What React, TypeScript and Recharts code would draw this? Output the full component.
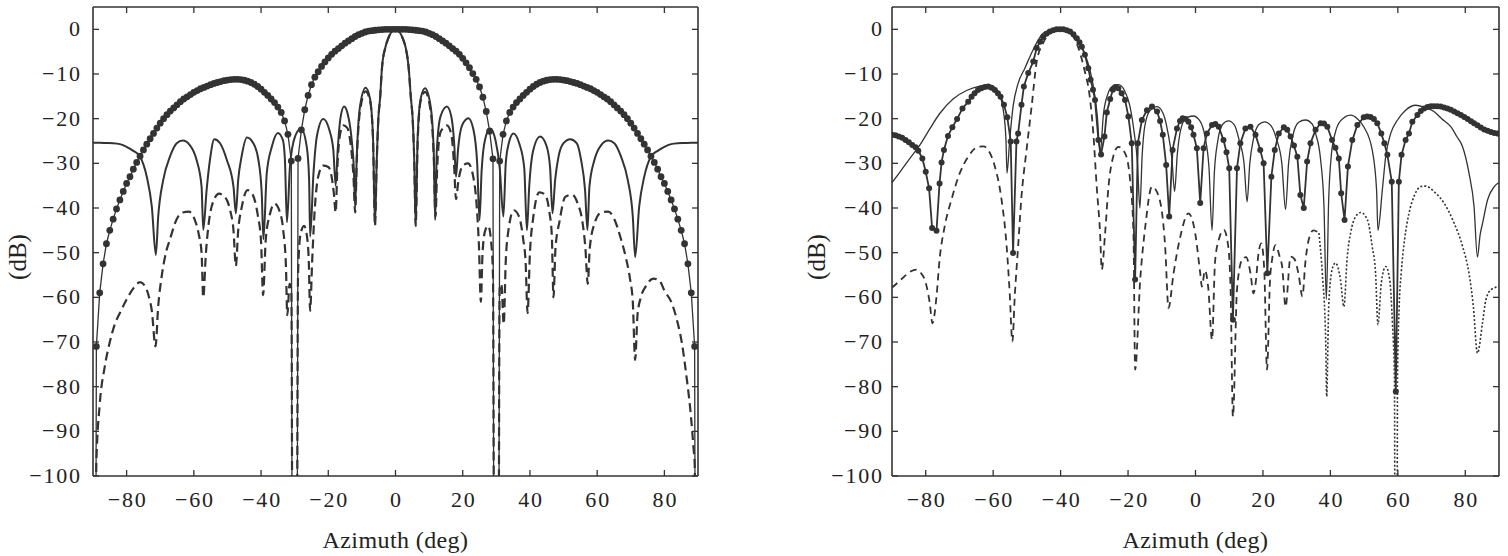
import { Line, LineChart, XAxis, YAxis } from "recharts";

type Pt = [number, number];

const azimuthTicks = [-80, -60, -40, -20, 0, 20, 40, 60, 80];
const dbTicks = [-100, -90, -80, -70, -60, -50, -40, -30, -20, -10, 0];

// left panel: subarray pattern (dotted markers), array factor (solid), total (dashed)
const leftMarker: Pt[] = [
  [-90, -400], [-89, -71], [-88, -59], [-87, -52.5], [-86, -48], [-85, -45], [-84, -42.5], [-83, -40.2], [-82, -38.2],
  [-81, -36.3], [-80, -34.5], [-79, -33], [-78, -31.3], [-77, -29.8], [-76, -28.4], [-75, -27], [-74, -25.7], [-73, -24.5],
  [-72, -23.3], [-71, -22.1], [-70, -21], [-69, -20], [-68, -19.1], [-67, -18.3], [-66, -17.6], [-65, -16.9], [-64, -16.2],
  [-63, -15.6], [-62, -15.1], [-61, -14.6], [-60, -14.1], [-59, -13.7], [-58, -13.3], [-57, -13], [-56, -12.7], [-55, -12.4],
  [-54, -12.1], [-53, -11.9], [-52, -11.7], [-51, -11.5], [-50, -11.35], [-49, -11.25], [-48, -11.2], [-47, -11.2],
  [-46, -11.25], [-45, -11.4], [-44, -11.6], [-43, -11.9], [-42, -12.3], [-41, -12.8], [-40, -13.4], [-39, -14.1],
  [-38, -14.8], [-37, -15.6], [-36, -16.4], [-35, -17.4], [-34, -18.6], [-33, -20.5], [-32, -23.5], [-31, -29.5],
  [-30, -400], [-29, -28.9], [-28, -22.5], [-27, -18], [-26, -14.8], [-25, -12.4], [-24, -10.7], [-23, -9.5], [-22, -8.3],
  [-21, -7.3], [-20, -6.4], [-19, -5.6], [-18, -4.9], [-17, -4.3], [-16, -3.7], [-15, -3.1], [-14, -2.6], [-13, -2.1],
  [-12, -1.6], [-11, -1.2], [-10, -0.9], [-9, -0.6], [-8, -0.4], [-7, -0.3], [-6, -0.2], [-5, -0.1], [-4, -0.05], [-3, 0],
  [-2, 0], [-1, 0], [0, 0], [1, 0], [2, 0], [3, 0], [4, -0.05], [5, -0.1], [6, -0.2], [7, -0.3], [8, -0.4], [9, -0.6],
  [10, -0.9], [11, -1.2], [12, -1.6], [13, -2.1], [14, -2.6], [15, -3.1], [16, -3.7], [17, -4.3], [18, -4.9], [19, -5.6],
  [20, -6.5], [21, -7.5], [22, -8.6], [23, -9.9], [24, -11.2], [25, -12.9], [26, -15.2], [27, -18.4], [28, -22.8],
  [29, -29], [30, -400], [31, -29.5], [32, -23.5], [33, -20.5], [34, -18.6], [35, -17.4], [36, -16.4], [37, -15.6],
  [38, -14.8], [39, -14.1], [40, -13.4], [41, -12.8], [42, -12.3], [43, -11.9], [44, -11.6], [45, -11.4], [46, -11.25],
  [47, -11.2], [48, -11.2], [49, -11.25], [50, -11.35], [51, -11.5], [52, -11.7], [53, -11.9], [54, -12.1], [55, -12.4],
  [56, -12.7], [57, -13], [58, -13.3], [59, -13.7], [60, -14.1], [61, -14.6], [62, -15.1], [63, -15.6], [64, -16.2],
  [65, -16.9], [66, -17.6], [67, -18.3], [68, -19.1], [69, -20], [70, -21], [71, -22.1], [72, -23.3], [73, -24.5],
  [74, -25.7], [75, -27], [76, -28.4], [77, -29.8], [78, -31.3], [79, -33], [80, -34.5], [81, -36.3], [82, -38.2],
  [83, -40.2], [84, -42.5], [85, -45], [86, -48], [87, -52.5], [88, -59], [89, -71], [90, -400],
];

const leftSolid: Pt[] = [
  [-90, -25.4], [-88, -25.4], [-86, -25.45], [-84, -25.5], [-82, -25.7], [-80, -26.3], [-78, -27.2], [-76, -28.5],
  [-74, -33], [-72.5, -39.7], [-71.3, -50.5],
  [-70.6, -41.9], [-69.1, -33.7], [-67.1, -28.5], [-65.1, -25.5], [-63.3, -24.9], [-61.2, -25.9], [-59.2, -29.2], [-57.7, -35.2], [-57.2, -44.9],
  [-56.2, -36], [-55.2, -29.2], [-53.9, -24.6], [-52.2, -25.5], [-50.2, -29.2], [-48.2, -35.2], [-47.5, -41.2],
  [-46.8, -33.7], [-45.8, -28.5], [-44.2, -24.2], [-42.3, -25.5], [-40.8, -29.2], [-39.8, -36.7], [-39.3, -47],
  [-38.3, -32.2], [-36.8, -26.3], [-35, -23.2], [-33.5, -24.8], [-32.9, -29.2], [-32.3, -43.2],
  [-31.4, -30.7], [-29.9, -24], [-28.1, -22.2], [-26.4, -26.3], [-25.7, -33.7], [-25.4, -46.4],
  [-24.4, -32.2], [-23.4, -24], [-21.5, -20.1], [-19.7, -22.5], [-18.5, -27], [-17.8, -35],
  [-17.2, -27], [-16.3, -19.5], [-15.3, -17.3], [-14.2, -19], [-13, -25], [-12.4, -31], [-12, -39.7],
  [-11.5, -28], [-10.6, -17.5], [-8.9, -13.1], [-7.6, -15.5], [-6.7, -24], [-6.1, -43.8],
  [-5.6, -30], [-5.1, -20], [-4.6, -15.5], [-4, -8.4], [-3, -4], [-2.3, -2.3], [-1.2, -0.6], [0, 0],
  [1.2, -0.6], [2.3, -2.3], [3, -4], [3.9, -8.4], [4.6, -15.5], [5.1, -20], [5.6, -30], [6, -43.8],
  [6.6, -24], [7.5, -15.5], [8.8, -13.2], [10.5, -17.5], [11.4, -28], [11.8, -42.7],
  [12.3, -27], [13.4, -19.5], [15.3, -17.3], [16.6, -19.5], [17.5, -26], [18, -33],
  [18.6, -27], [19.8, -21.5], [21.7, -19.9], [23.2, -22.5], [24.3, -30], [25, -42.7],
  [25.6, -32], [26.7, -24.5], [28.2, -22.2], [29.8, -25], [31, -31], [32.1, -41.9],
  [32.8, -30], [33.7, -25.5], [35.1, -23.3], [36.8, -25.5], [38.3, -31], [39.1, -45],
  [39.8, -35], [41, -27], [43, -24], [44.9, -26], [46, -31], [46.7, -41.2],
  [47.5, -33.7], [48.5, -28.5], [50, -25.5], [52, -24.6], [53.9, -25.5], [55.2, -29.2], [56.4, -36], [57.1, -44.9],
  [57.7, -35.2], [59.2, -29.2], [61.2, -25.9], [63.3, -24.9], [65.1, -25.5], [67.1, -28.5], [69.1, -33.7], [70.6, -41.9], [71.3, -51],
  [72.5, -39.7], [74, -33], [76, -28.5], [78, -27.2], [80, -26.3], [82, -25.7], [84, -25.5], [86, -25.45], [88, -25.4], [90, -25.4],
];

const leftDashed: Pt[] = [
  [-90, -400], [-89, -97], [-88, -84], [-86.5, -75.5], [-85, -70], [-83.5, -66], [-82, -63.5], [-80, -60.5], [-78, -58],
  [-76, -56.6], [-74.5, -57.5], [-73.5, -59.5], [-72.5, -63], [-71.4, -71], [-70.6, -62], [-69.6, -55.5], [-68.3, -50],
  [-67.1, -47], [-65.1, -42.5], [-63.3, -41], [-61.5, -40.8], [-59.8, -42.5], [-58.5, -46], [-57.7, -50], [-57.2, -60],
  [-56.4, -50], [-55.5, -43], [-54.2, -38.5], [-52.5, -36.8], [-50.8, -37.5], [-49.2, -40.5], [-48.2, -45], [-47.5, -53],
  [-46.8, -45], [-45.8, -40], [-44, -36], [-42.5, -37], [-41, -41.5], [-40, -47.5], [-39.4, -59.5], [-38.6, -47],
  [-37.4, -41.5], [-36, -39], [-34.6, -40.5], [-33.4, -45], [-32.6, -53], [-32.2, -64], [-31.5, -57], [-31, -58],
  [-30, -400], [-29, -55], [-28.3, -46], [-27.2, -44], [-26.4, -46], [-25.8, -52], [-25.4, -63], [-24.8, -52], [-24, -40],
  [-23, -33], [-21.5, -30.5], [-20, -30.8], [-19, -33], [-18.3, -37], [-17.8, -41], [-17.3, -31], [-16.6, -24],
  [-15.5, -21.5], [-14.4, -22], [-13.3, -26], [-12.5, -33], [-12, -41], [-11.5, -29], [-10.6, -18.5], [-8.9, -13.9],
  [-7.6, -15.9], [-6.7, -24.3], [-6.1, -44], [-5.6, -30], [-5.1, -20], [-4.6, -15.6], [-4, -8.5], [-3, -4], [-2.3, -2.3],
  [-1.2, -0.6], [0, 0], [1.2, -0.6], [2.3, -2.3], [3, -4], [3.9, -8.5], [4.6, -15.6], [5.1, -20], [5.6, -30], [6, -44],
  [6.6, -25], [7.5, -16], [8.8, -14], [10.5, -18.5], [11.4, -29], [11.9, -42], [12.4, -31], [13.4, -23], [15.3, -21.5],
  [16.6, -23.5], [17.4, -30], [18, -38], [18.7, -34], [20, -30.5], [21.6, -30], [23, -32.5], [24.2, -40], [24.8, -48],
  [25.4, -61], [25.9, -50], [26.7, -45], [27.6, -44], [28.5, -48], [29, -55], [30, -400], [31, -58], [31.5, -57],
  [32.2, -66], [32.8, -52], [33.6, -45], [35.2, -40.5], [36.8, -42], [38, -47], [38.7, -52], [39.3, -63.5], [40, -50],
  [41, -42], [42.8, -36.5], [44.5, -37], [45.8, -41], [46.5, -46], [47, -60], [47.6, -49], [48.8, -43], [50.5, -37.5],
  [52.5, -37], [54.2, -39], [55.6, -43], [56.5, -49], [57.2, -57], [57.8, -49], [59.2, -43.5], [61.2, -41], [63.3, -40.8],
  [65.1, -42.5], [67.1, -47], [68.5, -51], [69.8, -56], [70.6, -61], [71.3, -74], [72, -64], [73, -60], [74.5, -57.5],
  [76.7, -55.8], [78.5, -56.2], [80, -58.5], [82.2, -61.3], [83.7, -65], [85.2, -70.2], [86.7, -78.5], [87.7, -85],
  [88.7, -94], [89, -97], [90, -400],
];

// right panel: steered pattern (markers), thin solid, dashed and dotted lower traces
const rightMarker: Pt[] = [
  [-90, -23.6], [-89, -23.7], [-88, -24], [-87, -24.3], [-86, -24.8], [-85, -25.3], [-84, -25.9], [-83, -26.4],
  [-82.2, -27.2], [-81, -28.9], [-80, -31.9], [-79, -35.6], [-78.1, -44.5], [-76.8, -45.1], [-75.9, -34.5], [-75.3, -29.8],
  [-74.6, -27], [-73.4, -23.9], [-72.1, -21.9], [-70.7, -20.1], [-69.1, -17.7], [-67.4, -16.2], [-66.4, -15.1],
  [-65.5, -14.3], [-64.5, -13.6], [-63.5, -13.2], [-62.5, -12.9], [-61.5, -12.8], [-60.5, -13.1], [-59.5, -13.6],
  [-58.6, -14.3], [-57.8, -15.1], [-56.8, -16.9], [-55.8, -19.7], [-54.8, -25.1], [-54.1, -50.1], [-53.1, -25.1],
  [-52.6, -23.3], [-51.6, -16.9], [-50.9, -12.8], [-49.6, -9.8], [-48.1, -7.2], [-47.1, -4.2], [-46.1, -2.8],
  [-45.2, -1.7], [-44.2, -1], [-43.2, -0.5], [-42.2, -0.2], [-41.2, 0], [-40.2, 0], [-39.2, 0], [-38.2, -0.2],
  [-37.2, -0.5], [-36.2, -1.1], [-35.2, -2], [-34.4, -2.9], [-33.7, -3.9], [-32.8, -5.7], [-31.8, -8.7], [-31.1, -11.3],
  [-30.4, -13.5], [-29.8, -15.8], [-28.8, -24.8], [-28, -28], [-27, -24], [-26.3, -18.6], [-25.3, -15.6], [-24.5, -13.5],
  [-23.8, -12.9], [-22.9, -13.2], [-21.9, -14.3], [-20.9, -15.8], [-19.9, -19.5], [-18.9, -25.5], [-17.9, -56],
  [-17.1, -25.5], [-15.9, -20.3], [-14.4, -18.1], [-12.9, -17.3], [-11.4, -18.4], [-10.5, -20.5], [-9.7, -23.6],
  [-8.7, -30.4], [-7.8, -41.9], [-6.8, -27], [-5.5, -22.2], [-4.6, -20.5], [-3.8, -19.9], [-2.9, -20.1], [-2.1, -20.7],
  [-1.3, -21.9], [-0.6, -23.6], [0.4, -26.6], [1.4, -38.9], [2.4, -26.6], [3.4, -23.3], [4.9, -21.4], [5.9, -21.2],
  [6.9, -21.8], [8.3, -24.8], [9.2, -27.5], [10, -31.1], [11.1, -65], [12.3, -31.1], [13.3, -25.5], [14.8, -22.2],
  [16.3, -21.8], [17.8, -23.6], [19.2, -27], [20.2, -30], [21.3, -54.6], [22.5, -33], [23.5, -27], [24.7, -23.3],
  [26.2, -21.9], [27.2, -22.5], [28.2, -24], [29.2, -26], [30.2, -28.5], [31.1, -37.1], [32.1, -40], [33.1, -29.6],
  [34.1, -25.5], [35.6, -22.5], [37.1, -21], [38.1, -21.1], [39.1, -21.8], [40.5, -24.8], [41.5, -26.5], [42.5, -28.9],
  [43.2, -36.7], [44.2, -42.7], [45.2, -30.7], [46.5, -24.8], [48, -21.4], [49.9, -19.7], [50.9, -19.5], [51.9, -19.6],
  [52.9, -20.1], [53.9, -21], [55.1, -23.3], [56, -25.5], [56.9, -28.1], [58.2, -34.1], [59.4, -81.1], [60.3, -34.1],
  [61.1, -28.1], [62.3, -24.8], [63.3, -23.3], [64.3, -20.7], [65.8, -19.2], [66.8, -18.3], [67.8, -17.7], [68.8, -17.4],
  [69.8, -17.2], [70.7, -17.2], [71.7, -17.2], [72.7, -17.3], [73.7, -17.5], [74.7, -17.7], [75.7, -18], [76.7, -18.4],
  [77.7, -18.8], [78.7, -19.2], [79.7, -19.6], [80.7, -20.1], [81.7, -20.6], [82.6, -21], [83.6, -21.5], [84.6, -22],
  [85.6, -22.4], [86.6, -22.7], [87.6, -23], [88.6, -23.2], [89.6, -23.3], [90, -23.3],
];

const rightSolid: Pt[] = [
  [-90, -34.3], [-87.7, -32], [-84.8, -29], [-81.8, -26], [-78.8, -22.3], [-75.9, -18.9], [-71.9, -15.6],
  [-67.9, -13.7], [-64, -12.7], [-61, -12.5], [-58.5, -14], [-57, -18.1], [-56.2, -24.8], [-55.9, -32.2], [-55.1, -24.8],
  [-54.1, -17.3], [-52.6, -12.1], [-50.6, -8.7], [-48.1, -4.5], [-45.2, -0.9], [-42.5, -0.1], [-40.5, 0], [-38.5, -0.2],
  [-36.2, -0.9], [-33.3, -4.6], [-31.3, -9.1], [-29.8, -15.1], [-29.1, -19.6], [-28.3, -28], [-27.3, -19], [-26, -14.5],
  [-24.5, -12.7], [-22.8, -12.4], [-21, -13.8], [-19.5, -17], [-18.2, -23], [-17.2, -30], [-16.5, -40], [-15.8, -28],
  [-15, -21.5], [-13.5, -18.2], [-11.4, -17.3], [-9.5, -19], [-8.2, -23], [-7, -29], [-6.2, -36.3], [-5.4, -28],
  [-4.4, -22.5], [-2.7, -19.8], [-0.7, -19.4], [1.3, -20.5], [2.8, -24], [4, -31], [4.9, -45], [5.6, -32], [6.6, -25],
  [8, -21.3], [9.8, -20.5], [11.6, -21.5], [13, -25], [14.4, -30], [15.3, -38.6], [16.1, -30], [17.2, -24.5],
  [18.8, -21.3], [20.5, -20.7], [22.3, -21.5], [24, -24.5], [25.6, -30], [26.7, -40.3], [27.6, -30], [28.8, -24],
  [30.6, -20.8], [32.6, -20.3], [34.6, -21.2], [35.6, -23.3], [37.1, -29.2], [38.1, -39.7], [38.8, -60.5], [39.5, -38],
  [40.3, -28], [41.5, -23], [43, -20.5], [46, -19.2], [48, -20], [49.9, -21.8], [52.4, -27], [53.7, -36], [54.1, -45],
  [55.4, -36], [56.4, -28.5], [57.9, -23.3], [59.9, -20.3], [62.3, -18.1], [65.3, -17], [68, -17.5], [70.7, -18.4],
  [73, -20], [75.7, -21.8], [77.5, -24], [79.2, -26.3], [81.1, -32.2], [82.6, -39.7], [83.6, -51], [84.4, -46],
  [85.1, -43.5], [86.6, -38.2], [88.6, -35.2], [90, -34.3],
];

const rightDashed: Pt[] = [
  [-90, -57.8], [-88, -56.5], [-86.3, -55.3], [-84.5, -54.2], [-82.8, -53.8], [-81.5, -54.5], [-80.3, -56], [-78.8, -61.3],
  [-78, -65.8], [-76.8, -59.8], [-75.9, -51.6], [-74.4, -44.2], [-72.4, -38.2], [-69.9, -32.2], [-67.4, -28.5],
  [-64.5, -26.3], [-62.8, -26.2], [-61.5, -27], [-59.5, -30.7], [-57.5, -38.2], [-56, -48.6], [-55.1, -59], [-54.3, -69.9],
  [-53.6, -59.8], [-52.6, -48.6], [-51.6, -37.4], [-50.1, -27], [-48.6, -17.3], [-47.1, -7.3], [-45.2, -3.1],
  [-42.2, -0.5], [-39.3, -0.1], [-36.2, -1.7], [-34.2, -5.4], [-32.8, -9.5], [-31.5, -14.3], [-30.3, -23.3],
  [-29.3, -35.2], [-28.3, -45.6], [-27.8, -53.8], [-26.8, -45.6], [-25.8, -35.2], [-24.4, -28.5], [-22.9, -26.3],
  [-20.9, -27.7], [-19.4, -33.7], [-18.4, -45.6], [-17.9, -76.2], [-16.4, -56.1], [-14.9, -44.2], [-12.9, -35.2],
  [-10.9, -37.4], [-9, -48.6], [-8, -62.4], [-6.5, -54.6], [-4.5, -46.4], [-2.1, -41.2], [-0.1, -45.6], [1.4, -54.6],
  [1.9, -57.6], [2.8, -54], [3.8, -58], [4.9, -69.5], [5.8, -52], [6.9, -47.1], [8.4, -44.9], [9.6, -48], [10.4, -58],
  [11.1, -86.7], [12.3, -58.3], [13.8, -51.6], [15, -51], [16.3, -54.6], [17.2, -59.1], [17.8, -57], [18.7, -50.1],
  [19.5, -47.9], [20.4, -54], [21.2, -76.2], [22.1, -56], [22.7, -51.6], [23.7, -48.3], [25, -51], [25.7, -53.1],
  [26.7, -62.1], [28.2, -50.9], [29.4, -51.5], [30.6, -55], [31.7, -59.8], [32.6, -52], [33.6, -47], [35, -45],
  [36.6, -45.6],
];

const rightDotted: Pt[] = [
  [36.6, -45.6], [37.6, -54.6], [38.6, -69.5], [38.9, -82.2], [39.5, -62], [40.5, -53.8], [41.5, -52.3], [43, -56.1],
  [44, -62.1], [45, -50.9], [46, -45.6], [47.5, -41.9], [49, -41], [51, -42.7], [52.4, -48.6], [53.4, -54.6],
  [54.1, -66.1], [55.1, -56.8], [56.4, -53.1], [57.6, -56.1], [58.4, -65.8], [59, -78], [59.5, -400], [59.9, -78],
  [60.4, -62], [61, -54.6], [62, -47.1], [63.3, -41.2], [64.8, -37.4], [66.8, -35.2], [68.3, -35.1], [70.7, -36.3],
  [73.7, -38.9], [76.7, -43.4], [79.2, -48.6], [81.1, -54.6], [82.4, -62.1], [83.6, -72.5], [85.1, -65.8],
  [86.1, -60.6], [87.6, -58.3], [90, -57.6],
];

const ink = "#333";
const textInk = "#222";
const serif = "'Liberation Serif', 'DejaVu Serif', serif";

const fmt = (v: number) => (v < 0 ? "\u2212" + Math.abs(v) : String(v));
const rows = (pts: Pt[]) => pts.map(([az, db]) => ({ az, db }));

type Series = { pts: Pt[]; width: number; dash?: string; dot?: number; curve: "linear" | "monotone" };

function BottomTick(props: any) {
  const { x, y, payload } = props;
  return (
    <g>
      <line x1={x} x2={x} y1={y} y2={y - 6} stroke={ink} strokeWidth={1.3} />
      <text x={x + 1} y={y + 31} textAnchor="middle" fontSize={22} letterSpacing={1.8} fill={textInk} fontFamily={serif}>
        {fmt(payload.value)}
      </text>
    </g>
  );
}

function TopTick(props: any) {
  const { x, y } = props;
  return <line x1={x} x2={x} y1={y} y2={y + 6} stroke={ink} strokeWidth={1.3} />;
}

const makeLeftTick = (gap: number) =>
  function LeftTick(props: any) {
    const { x, y, payload } = props;
    return (
      <g>
        <line x1={x} x2={x + 6} y1={y} y2={y} stroke={ink} strokeWidth={1.3} />
        <text x={x - gap + 1.8} y={y + 7} textAnchor="end" fontSize={22} letterSpacing={1.8} fill={textInk} fontFamily={serif}>
          {fmt(payload.value)}
        </text>
      </g>
    );
  };

function RightTick(props: any) {
  const { x, y } = props;
  return <line x1={x} x2={x - 6} y1={y} y2={y} stroke={ink} strokeWidth={1.3} />;
}

const axisLine = { stroke: ink, strokeWidth: 1.6 };

function Panel({ left, width, plotLeft, plotWidth, labelGap, series }: { left: number; width: number; plotLeft: number; plotWidth: number; labelGap: number; series: Series[] }) {
  const plotRight = width - plotLeft - plotWidth;
  const LeftTick = makeLeftTick(labelGap);
  return (
    <div style={{ position: "absolute", left, top: 0, width, height: 556 }}>
      <LineChart width={width} height={556} margin={{ top: 5, right: plotRight - 2, bottom: 20, left: plotLeft - 60 }}>
        <XAxis xAxisId="b" dataKey="az" type="number" domain={[-90, 90]} ticks={azimuthTicks} interval={0} allowDataOverflow
          height={60} tickSize={0} tickMargin={0} tickLine={false} axisLine={axisLine} tick={BottomTick} />
        <XAxis xAxisId="t" orientation="top" dataKey="az" type="number" domain={[-90, 90]} ticks={azimuthTicks} interval={0}
          allowDataOverflow height={2} tickSize={0} tickMargin={0} tickLine={false} axisLine={axisLine} tick={TopTick} />
        <YAxis yAxisId="l" type="number" domain={[-100, 5]} ticks={dbTicks} interval={0} allowDataOverflow width={60}
          tickSize={0} tickMargin={0} tickLine={false} axisLine={axisLine} tick={LeftTick} />
        <YAxis yAxisId="r" orientation="right" type="number" domain={[-100, 5]} ticks={dbTicks} interval={0} allowDataOverflow
          width={2} tickSize={0} tickMargin={0} tickLine={false} axisLine={axisLine} tick={RightTick} />
        {series.map((s, i) => (
          <Line key={i} xAxisId="b" yAxisId="l" data={rows(s.pts)} dataKey="db" type={s.curve} stroke={ink}
            strokeWidth={s.width} strokeDasharray={s.dash} isAnimationActive={false} activeDot={false}
            dot={s.dot ? { r: s.dot, fill: ink, stroke: "none" } : false} />
        ))}
      </LineChart>
      <div style={{ position: "absolute", left: plotLeft, width: plotWidth, top: 528, textAlign: "center", fontFamily: serif, fontSize: 24, letterSpacing: 0.4, lineHeight: "24px", color: textInk }}>
        Azimuth (deg)
      </div>
      <div style={{ position: "absolute", left: plotLeft - 75 - 40, width: 80, top: 245, textAlign: "center", fontFamily: serif, fontSize: 25, lineHeight: "24px", color: textInk, transform: "rotate(-90deg)" }}>
        (dB)
      </div>
    </div>
  );
}

export default function App() {
  return (
    <div style={{ position: "absolute", left: 0, top: 0, width: 1508, height: 556, background: "#fff", overflow: "hidden" }}>
      <Panel left={0} width={720} plotLeft={93} plotWidth={605} labelGap={13} series={[
        { pts: leftDashed, width: 2.2, dash: "9 5", curve: "monotone" },
        { pts: leftSolid, width: 2, curve: "monotone" },
        { pts: leftMarker, width: 1.3, dot: 3.4, curve: "linear" },
      ]} />
      <Panel left={800} width={708} plotLeft={92} plotWidth={607} labelGap={10} series={[
        { pts: rightDotted, width: 1.6, dash: "2 2", curve: "monotone" },
        { pts: rightDashed, width: 1.8, dash: "7 5", curve: "monotone" },
        { pts: rightSolid, width: 1.3, curve: "monotone" },
        { pts: rightMarker, width: 1.8, dot: 3, curve: "linear" },
      ]} />
    </div>
  );
}
